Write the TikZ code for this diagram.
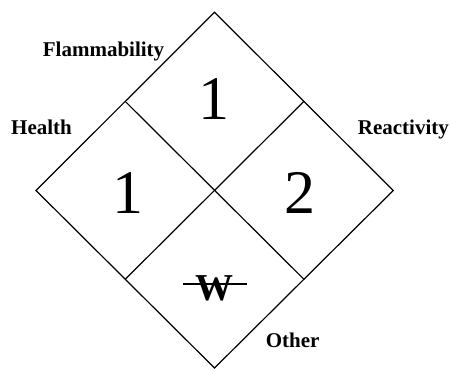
\documentclass[tikz,border=0pt]{standalone}
\usepackage{fontspec}
\setmainfont{Liberation Serif}
\usetikzlibrary{calc}
\begin{document}
\begin{tikzpicture}[x=1pt,y=1pt,
  edge/.style={line width=1.2pt,black},
  lbl/.style={anchor=base west,inner sep=0pt,font=\fontsize{21}{21}\selectfont\bfseries},
  num/.style={anchor=base,inner sep=0pt,font=\fontsize{62}{62}\selectfont}]
\useasboundingbox (0,0) rectangle (450,370);
\coordinate (T) at (214.5,357.7);
\coordinate (B) at (214.5,2);
\coordinate (L) at (36,179.5);
\coordinate (R) at (393.3,179.5);
\coordinate (TL) at ($(T)!0.5!(L)$);
\coordinate (TR) at ($(T)!0.5!(R)$);
\coordinate (BL) at ($(B)!0.5!(L)$);
\coordinate (BR) at ($(B)!0.5!(R)$);
\draw[edge] (T) -- (R) -- (B) -- (L) -- cycle;
\draw[edge] (TL) -- (BR);
\draw[edge] (TR) -- (BL);
\node[lbl] (flam) at (42.7,313) {Flammability};
\node[lbl] (health) at (11,235) {Health};
\node[lbl] (react) at (357.7,235) {Reactivity};
\node[lbl] (other) at (265.7,23) {Other};
\node[num] (nf) at (214,250) {1};
\node[num] (nh) at (128,157) {1};
\node[num] (nr) at (300,157) {2};
\node[anchor=base,inner sep=0pt,font=\fontsize{38}{38}\selectfont\bfseries] (w) at (214,70) {W};
\coordinate (s1) at (183,86);
\coordinate (s2) at (247,86);
\draw[edge] (s1) -- (s2);
\end{tikzpicture}
\end{document}
